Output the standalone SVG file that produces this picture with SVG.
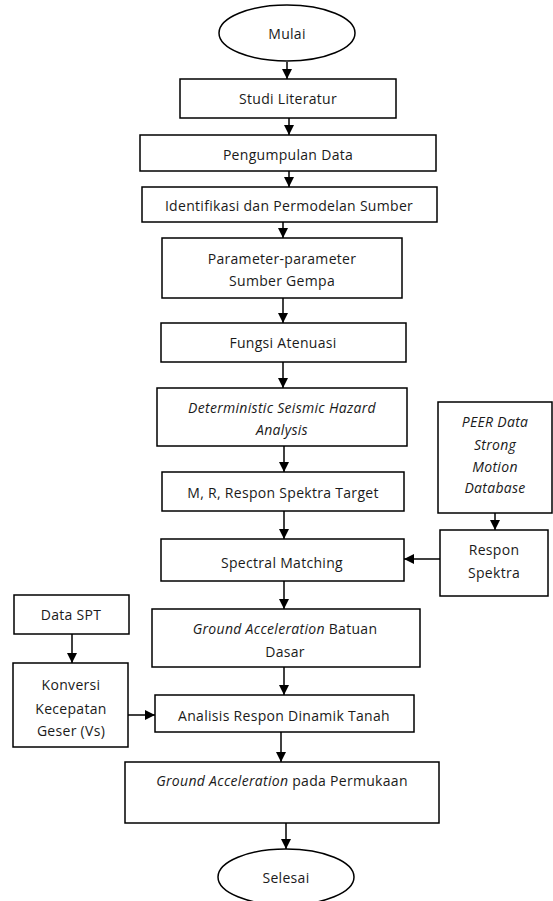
<svg xmlns="http://www.w3.org/2000/svg" width="553" height="901" viewBox="0 0 553 901">
<defs>
<marker id="ah" markerUnits="userSpaceOnUse" markerWidth="10" markerHeight="10" refX="10" refY="5" orient="auto">
<path d="M0,0 L10,5 L0,10 z" fill="#000"/>
</marker>
<style>
.b{fill:#fff;stroke:#000;stroke-width:1.5}
.t{font-family:"Open Sans","Liberation Sans",sans-serif;font-size:14px;letter-spacing:0.3px;fill:#1a1a1a;text-anchor:middle;dominant-baseline:central}
.i{font-style:italic}
.c{stroke:#000;stroke-width:1.5;fill:none;marker-end:url(#ah)}
</style>
</defs>
<rect width="553" height="901" fill="#fff"/>
<g id="connectors">
<line class="c" x1="287" y1="62" x2="287" y2="79"/>
<line class="c" x1="289" y1="118" x2="289" y2="135"/>
<line class="c" x1="289" y1="171" x2="289" y2="187"/>
<line class="c" x1="283" y1="222" x2="283" y2="238"/>
<line class="c" x1="283" y1="298" x2="283" y2="323"/>
<line class="c" x1="283" y1="362" x2="283" y2="388"/>
<line class="c" x1="284" y1="446" x2="284" y2="472"/>
<line class="c" x1="284" y1="511" x2="284" y2="539"/>
<line class="c" x1="284" y1="581" x2="284" y2="609"/>
<line class="c" x1="284" y1="667" x2="284" y2="695"/>
<line class="c" x1="281" y1="732" x2="281" y2="762"/>
<line class="c" x1="286" y1="823" x2="286" y2="849"/>
<line class="c" x1="495" y1="513" x2="495" y2="530"/>
<line class="c" x1="440" y1="559" x2="404" y2="559"/>
<line class="c" x1="72" y1="634" x2="72" y2="663"/>
<line class="c" x1="128" y1="715" x2="155" y2="715"/>
</g>
<g id="mulai"><ellipse class="b" cx="287" cy="33" rx="68" ry="28"/><text class="t" x="287" y="33">Mulai</text></g>
<g id="studi"><rect class="b" x="180" y="79" width="216" height="39"/><text class="t" x="288" y="98">Studi Literatur</text></g>
<g id="pengumpulan"><rect class="b" x="140" y="135" width="296" height="36"/><text class="t" x="288" y="154">Pengumpulan Data</text></g>
<g id="identifikasi"><rect class="b" x="142" y="187" width="295" height="35"/><text class="t" x="289" y="205">Identifikasi dan Permodelan Sumber</text></g>
<g id="parameter"><rect class="b" x="162" y="238" width="240" height="60"/><text class="t" x="282" y="258">Parameter-parameter</text><text class="t" x="282" y="280">Sumber Gempa</text></g>
<g id="fungsi"><rect class="b" x="161" y="323" width="245" height="39"/><text class="t" x="283" y="342">Fungsi Atenuasi</text></g>
<g id="dsha"><rect class="b" x="157" y="388" width="250" height="58"/><text class="t i" x="282" y="407">Deterministic Seismic Hazard</text><text class="t i" x="282" y="429">Analysis</text></g>
<g id="peer"><rect class="b" x="438" y="402" width="114" height="111"/><text class="t i" x="495" y="421">PEER Data</text><text class="t i" x="495" y="444">Strong</text><text class="t i" x="495" y="466">Motion</text><text class="t i" x="495" y="487">Database</text></g>
<g id="mr"><rect class="b" x="162" y="472" width="242" height="39"/><text class="t" x="283" y="492">M, R, Respon Spektra Target</text></g>
<g id="respon"><rect class="b" x="440" y="530" width="108" height="66"/><text class="t" x="494" y="549">Respon</text><text class="t" x="494" y="572">Spektra</text></g>
<g id="spectral"><rect class="b" x="161" y="539" width="243" height="42"/><text class="t" x="282" y="562">Spectral Matching</text></g>
<g id="batuan"><rect class="b" x="152" y="609" width="268" height="58"/><text class="t" x="285" y="628"><tspan class="i">Ground Acceleration</tspan> Batuan</text><text class="t" x="285" y="651">Dasar</text></g>
<g id="spt"><rect class="b" x="14" y="595" width="115" height="39"/><text class="t" x="71" y="614">Data SPT</text></g>
<g id="konversi"><rect class="b" x="13" y="663" width="115" height="84"/><text class="t" x="71" y="684">Konversi</text><text class="t" x="71" y="708">Kecepatan</text><text class="t" x="71" y="730">Geser (Vs)</text></g>
<g id="analisis"><rect class="b" x="155" y="695" width="259" height="37"/><text class="t" x="284" y="715">Analisis Respon Dinamik Tanah</text></g>
<g id="permukaan"><rect class="b" x="125" y="762" width="314" height="61"/><text class="t" x="282" y="780"><tspan class="i">Ground Acceleration</tspan> pada Permukaan</text></g>
<g id="selesai"><ellipse class="b" cx="286" cy="877" rx="68" ry="28"/><text class="t" x="286" y="877">Selesai</text></g>
</svg>
